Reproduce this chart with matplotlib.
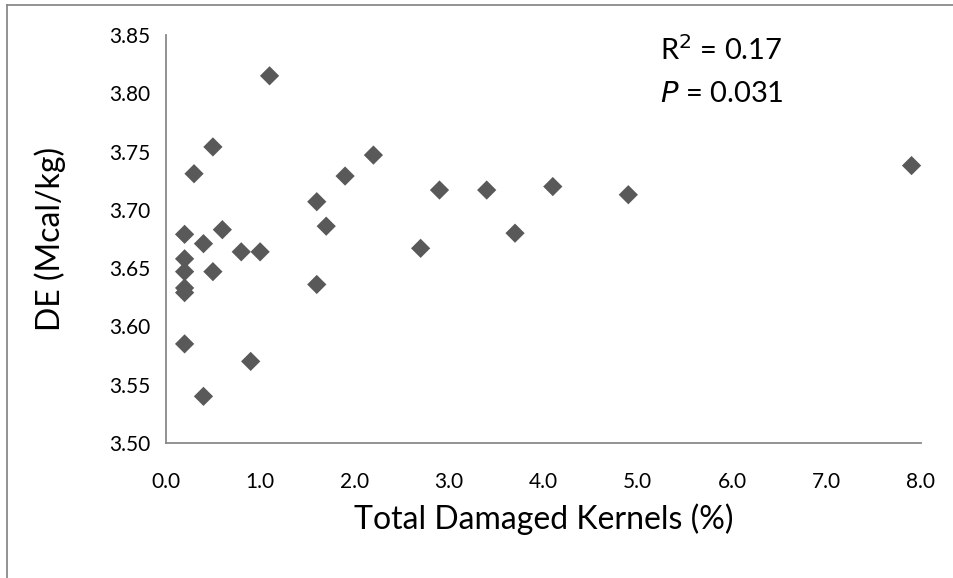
import matplotlib
matplotlib.use("Agg")
import matplotlib.pyplot as plt
from matplotlib.lines import Line2D

# Total damaged kernels (%) vs DE (Mcal/kg)
damaged = [1.1, 0.5, 0.3, 2.2, 1.9, 1.6, 2.9, 3.4, 1.7, 0.2, 0.6, 0.4, 0.8, 1.0,
           0.2, 0.2, 0.5, 0.2, 0.2, 1.6, 2.7, 0.2, 0.9, 0.4, 4.1, 3.7, 4.9, 7.9]
de = [3.815, 3.754, 3.731, 3.747, 3.729, 3.707, 3.717, 3.717, 3.686, 3.679, 3.683,
      3.671, 3.664, 3.664, 3.658, 3.647, 3.647, 3.633, 3.629, 3.636, 3.667, 3.585,
      3.570, 3.540, 3.720, 3.680, 3.713, 3.738]

xticks = [0, 1, 2, 3, 4, 5, 6, 7, 8]
yticks = [3.50, 3.55, 3.60, 3.65, 3.70, 3.75, 3.80, 3.85]

plt.rcParams['font.family'] = ['Lato', 'DejaVu Sans']

fig = plt.figure(figsize=(9.54, 5.78), dpi=100)
ax = fig.add_axes([0.1737, 0.2336, 0.7917, 0.7058])

ax.scatter(damaged, de, marker='D', s=96, color='#595959', edgecolors='none', zorder=3)

ax.set_xlim(0, 8)
ax.set_ylim(3.50, 3.85)
ax.set_xticks(xticks)
ax.set_xticklabels(['%.1f' % v for v in xticks])
ax.set_yticks(yticks)
ax.set_yticklabels(['%.2f' % v for v in yticks])
ax.tick_params(length=0, labelsize=15)
ax.tick_params(axis='x', pad=21)
ax.tick_params(axis='y', pad=11)

for s in ['top', 'right']:
    ax.spines[s].set_visible(False)
for s in ['left', 'bottom']:
    ax.spines[s].set_color('#898989')
    ax.spines[s].set_linewidth(1.3)

ax.set_xlabel('Total Damaged Kernels (%)', fontsize=23, labelpad=8)
ax.set_ylabel('DE (Mcal/kg)', fontsize=23, labelpad=31)

ax.text(0.654, 0.939, r'R$^2$ = 0.17', transform=ax.transAxes, fontsize=21,
        va='baseline', ha='left')
ax.text(0.654, 0.836, r'$\it{P}$ = 0.031', transform=ax.transAxes, fontsize=21,
        va='baseline', ha='left')

# outer frame (top and left edges)
fig.add_artist(Line2D([7 / 954, 7 / 954], [0, 1 - 4.5 / 578], transform=fig.transFigure,
                      color='#898989', lw=1.3))
fig.add_artist(Line2D([7 / 954, 1], [1 - 4.5 / 578, 1 - 4.5 / 578], transform=fig.transFigure,
                      color='#898989', lw=1.3))

fig.savefig('out.png', dpi=100)
